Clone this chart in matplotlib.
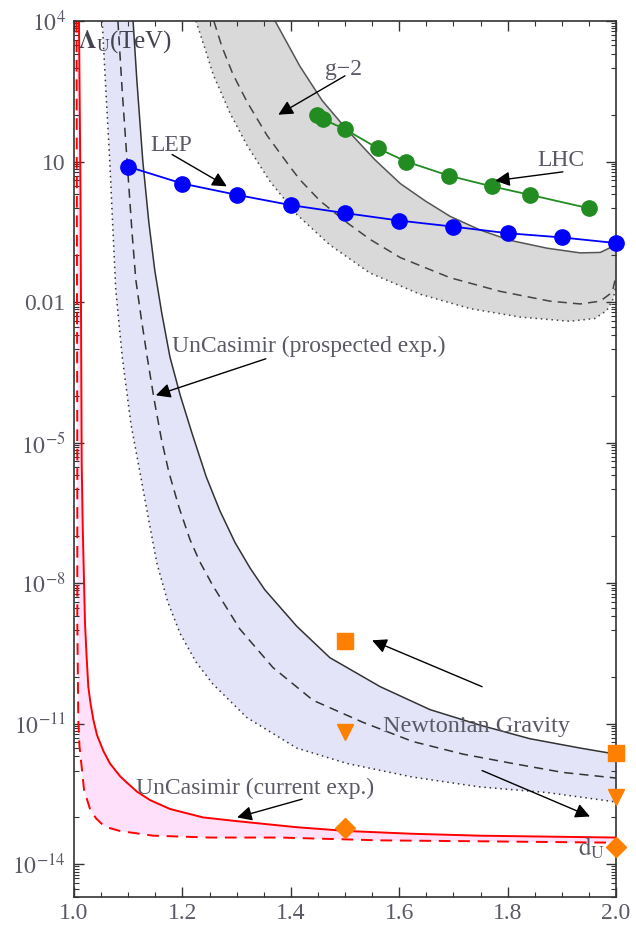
import numpy as np
import matplotlib

matplotlib.use("Agg")
import matplotlib.pyplot as plt
from matplotlib.ticker import NullFormatter

# Values below (d_U on x, log10 of Lambda_U in TeV on y).

# LEP bound (blue dots)
lep_d = [1.1, 1.2, 1.3, 1.4, 1.5, 1.6, 1.7, 1.8, 1.9, 2.0]
lep_log = [0.89, 0.53, 0.29, 0.07, -0.10, -0.26, -0.39, -0.53, -0.62, -0.74]

# LHC bound (green dots)
lhc_d = [1.448, 1.46, 1.50, 1.561, 1.613, 1.691, 1.771, 1.841, 1.951]
lhc_log = [2.00, 1.90, 1.69, 1.28, 1.00, 0.70, 0.47, 0.29, 0.00]

# g-2 band: solid, dashed, dotted boundaries
g2_solid_d = [1.371, 1.417, 1.458, 1.502, 1.555, 1.602, 1.648, 1.694, 1.749, 1.804,
              1.873, 1.934, 1.971, 1.989, 1.998]
g2_solid_log = [4.00, 3.03, 2.30, 1.70, 1.04, 0.53, 0.16, -0.17, -0.46, -0.68,
                -0.85, -0.95, -0.94, -0.84, -0.67]
g2_dash_d = [1.258, 1.273, 1.293, 1.319, 1.356, 1.399, 1.417, 1.454, 1.502, 1.546,
             1.602, 1.694, 1.786, 1.878, 1.934, 1.971, 1.993, 1.998]
g2_dash_log = [4.00, 3.45, 2.87, 2.28, 1.56, 0.88, 0.61, 0.16, -0.29, -0.66,
               -1.05, -1.48, -1.77, -1.98, -2.04, -1.98, -1.79, -1.54]
g2_dot_d = [1.225, 1.242, 1.257, 1.288, 1.319, 1.362, 1.411, 1.472, 1.546, 1.638,
            1.731, 1.823, 1.915, 1.961, 1.983, 1.995, 2.0]
g2_dot_log = [4.00, 3.40, 2.85, 2.03, 1.35, 0.57, -0.13, -0.78, -1.38, -1.83,
              -2.14, -2.32, -2.41, -2.35, -2.18, -1.93, -1.63]

# UnCasimir (prospected exp.) band
pro_solid_d = [1.109, 1.116, 1.127, 1.138, 1.149, 1.162, 1.177, 1.196, 1.218, 1.244,
               1.269, 1.297, 1.325, 1.352, 1.411, 1.472, 1.565, 1.657, 1.749, 1.841,
               1.934, 2.0]
pro_solid_log = [4.00, 2.73, 1.00, -0.29, -1.32, -2.24, -3.17, -3.99, -4.81, -5.73,
                 -6.45, -7.13, -7.68, -8.14, -8.92, -9.59, -10.21, -10.70, -11.03, -11.32,
                 -11.52, -11.65]
pro_dash_d = [1.081, 1.089, 1.098, 1.107, 1.114, 1.124, 1.135, 1.148, 1.161, 1.175,
              1.194, 1.214, 1.232, 1.256, 1.306, 1.367, 1.441, 1.533, 1.625, 1.718,
              1.810, 1.902, 2.0]
pro_dash_log = [4.00, 2.50, 1.00, -0.50, -1.52, -2.34, -3.17, -4.09, -4.91, -5.63,
                -6.39, -7.07, -7.54, -8.05, -8.98, -9.80, -10.50, -10.97, -11.38, -11.65,
                -11.85, -12.04, -12.16]
pro_dot_d = [1.052, 1.059, 1.066, 1.072, 1.077, 1.089, 1.105, 1.125, 1.138, 1.153,
             1.173, 1.196, 1.225, 1.256, 1.319, 1.411, 1.504, 1.625, 1.749, 1.873, 2.0]
pro_dot_log = [4.00, 2.48, 1.00, -0.50, -1.73, -3.17, -4.60, -5.84, -6.66, -7.58,
               -8.40, -9.08, -9.68, -10.15, -10.87, -11.52, -11.85, -12.14, -12.35, -12.47,
               -12.67]

# UnCasimir (current exp.) band, red
cur_solid_d = [1.0092, 1.0120, 1.0142, 1.0161, 1.0203, 1.0231, 1.0264, 1.0304, 1.0356,
               1.0424, 1.0541, 1.0664, 1.0849, 1.0978, 1.1162, 1.1402, 1.1771, 1.2380,
               1.3007, 1.4114, 1.5037, 1.6255, 1.7491, 1.8727, 2.0]
cur_solid_log = [4.00, 0.32, -5.43, -6.80, -8.85, -9.53, -10.21, -10.56, -10.91,
                 -11.24, -11.58, -11.85, -12.12, -12.26, -12.45, -12.63, -12.82, -13.00,
                 -13.08, -13.21, -13.29, -13.35, -13.39, -13.41, -13.43]
cur_dash_d = [1.0046, 1.0061, 1.0061, 1.0079, 1.0101, 1.0142, 1.0185, 1.0295, 1.0406,
              1.0541, 1.0664, 1.0849, 1.1458, 1.2509, 1.3801, 1.5646, 1.7491, 2.0]
cur_dash_log = [4.00, -5.43, -8.85, -10.91, -11.48, -11.93, -12.41, -12.82, -13.02,
                -13.17, -13.23, -13.29, -13.39, -13.43, -13.43, -13.49, -13.51, -13.54]

# Newtonian gravity / Casimir points (orange)
orange_d = [1.5, 2.0]
square_log = [-9.24, -11.63]
triangle_log = [-11.17, -12.57]
diamond_log = [-13.23, -13.64]

y_tick_exp = [4, 1, -2, -5, -8, -11, -14]
y_tick_labels = [r"$10^{4}$", "10", "0.01", r"$10^{-5}$", r"$10^{-8}$", r"$10^{-11}$", r"$10^{-14}$"]
x_ticks = [1.0, 1.2, 1.4, 1.6, 1.8, 2.0]

INK = "#333333"
TEXT = "#5a5a66"
ORANGE = "#ff7f00"
DASH = (0, (6, 4))
DOT = (0, (1, 2.5))


def v(logs):
    return 10.0 ** np.asarray(logs)


plt.rcParams["font.family"] = ["Liberation Serif", "DejaVu Serif"]
plt.rcParams["mathtext.fontset"] = "stix"

fig = plt.figure(figsize=(6.36, 9.27), dpi=100)
ax = fig.add_axes([74 / 636, 30 / 927, 542 / 636, 876 / 927])
ax.set_yscale("log")
ax.set_xlim(1.0, 2.0)
ax.set_ylim(1e-14, 1e4)

# bands
ax.fill(np.r_[g2_solid_d, g2_dot_d[::-1]], np.r_[v(g2_solid_log), v(g2_dot_log)[::-1]],
        color="#d9d9d9", lw=0, zorder=1)
ax.fill(np.r_[pro_solid_d, pro_dot_d[::-1]], np.r_[v(pro_solid_log), v(pro_dot_log)[::-1]],
        color="#e3e4f7", lw=0, zorder=1)
ax.fill(np.r_[cur_solid_d, cur_dash_d[::-1]], np.r_[v(cur_solid_log), v(cur_dash_log)[::-1]],
        color="#ffe0fb", lw=0, zorder=1)

ax.plot(g2_solid_d, v(g2_solid_log), color="#555555", lw=1.1, zorder=2)
ax.plot(g2_dash_d, v(g2_dash_log), color="#444444", lw=1.1, ls=DASH, zorder=2)
ax.plot(g2_dot_d, v(g2_dot_log), color="#444444", lw=1.1, ls=DOT, zorder=2)

ax.plot(pro_solid_d, v(pro_solid_log), color=INK, lw=1.1, zorder=2)
ax.plot(pro_dash_d, v(pro_dash_log), color=INK, lw=1.1, ls=DASH, zorder=2)
ax.plot(pro_dot_d, v(pro_dot_log), color=INK, lw=1.1, ls=DOT, zorder=2)

ax.plot(cur_solid_d, v(cur_solid_log), color="#ff0000", lw=1.4, zorder=2)
ax.plot(cur_dash_d, v(cur_dash_log), color="#ff0000", lw=1.4, ls=DASH, zorder=2)

ax.plot(lep_d, v(lep_log), color="#0000ff", lw=1.3, marker="o", ms=11, zorder=4, clip_on=False)
ax.plot(lhc_d, v(lhc_log), color="#228b22", lw=1.3, marker="o", ms=11, zorder=4, clip_on=False)

ax.plot(orange_d, v(square_log), ls="none", marker="s", ms=11, color=ORANGE, zorder=4, clip_on=False)
ax.plot(orange_d, v(triangle_log), ls="none", marker="v", ms=12, color=ORANGE, zorder=4, clip_on=False)
ax.plot(orange_d, v(diamond_log), ls="none", marker="D", ms=10, color=ORANGE, zorder=4, clip_on=False)

# annotations
arrow = dict(arrowstyle="-|>", color="k", lw=1.0, mutation_scale=22, shrinkA=0, shrinkB=0)
notes = [
    ("g\u22122", (1.377, 2.00), (1.500, 2.83), (1.463, 2.97)),
    ("LEP", (1.282, 0.47), (1.181, 1.15), (1.140, 1.35)),
    ("LHC", (1.777, 0.59), (1.902, 0.78), (1.855, 1.02)),
    ("UnCasimir (prospected exp.)", (1.151, -3.99), (1.354, -3.21), (1.181, -2.94)),
    ("UnCasimir (current exp.)", (1.301, -13.00), (1.421, -12.61), (1.114, -12.39)),
]
for text, head, tail, pos in notes:
    ax.annotate("", xy=(head[0], 10 ** head[1]), xytext=(tail[0], 10 ** tail[1]),
                arrowprops=arrow, zorder=5)
    ax.text(pos[0], 10 ** pos[1], text, fontsize=17, color=TEXT, va="center", ha="left", zorder=6)

ax.annotate("", xy=(1.550, 10 ** -9.22), xytext=(1.753, 10 ** -10.21), arrowprops=arrow, zorder=5)
ax.annotate("", xy=(1.952, 10 ** -12.98), xytext=(1.753, 10 ** -12.0), arrowprops=arrow, zorder=5)
ax.text(1.570, 10 ** -11.05, "Newtonian Gravity", fontsize=17.5, color=TEXT, va="center", ha="left", zorder=6)

ax.text(1.007, 10 ** 3.57, r"$\mathbf{\Lambda}_{\mathrm{U}}$(TeV)", fontsize=18, color="#444450",
        va="center", ha="left", zorder=6)
ax.text(1.930, 10 ** -13.64, r"$\mathrm{d}_{\mathrm{U}}$", fontsize=18, color=TEXT,
        va="center", ha="left", zorder=6)

# ticks, Mathematica-like frame
ax.set_yticks(v(y_tick_exp))
ax.set_yticklabels(y_tick_labels)
minor_y = [10.0 ** e for e in range(-14, 5) if e not in y_tick_exp]
for e in y_tick_exp:
    minor_y += [k * 10.0 ** (e - 1) for k in range(2, 10)]
ax.set_yticks(sorted(minor_y), minor=True)
ax.yaxis.set_minor_formatter(NullFormatter())
ax.set_xticks(x_ticks)
ax.set_xticklabels([f"{t:.1f}" for t in x_ticks])
ax.set_xticks(np.arange(1.0, 2.0001, 0.05), minor=True)
ax.xaxis.set_minor_formatter(NullFormatter())

ax.tick_params(which="both", direction="in", top=True, right=True, color=INK)
ax.tick_params(which="major", length=7, width=1.0, labelsize=17, labelcolor=TEXT, pad=4)
ax.tick_params(which="minor", length=3.5, width=0.8)
ax.tick_params(axis="y", which="major", pad=6)
for sp in ax.spines.values():
    sp.set_color(INK)
    sp.set_linewidth(1.2)

fig.savefig("out.png", dpi=100)
